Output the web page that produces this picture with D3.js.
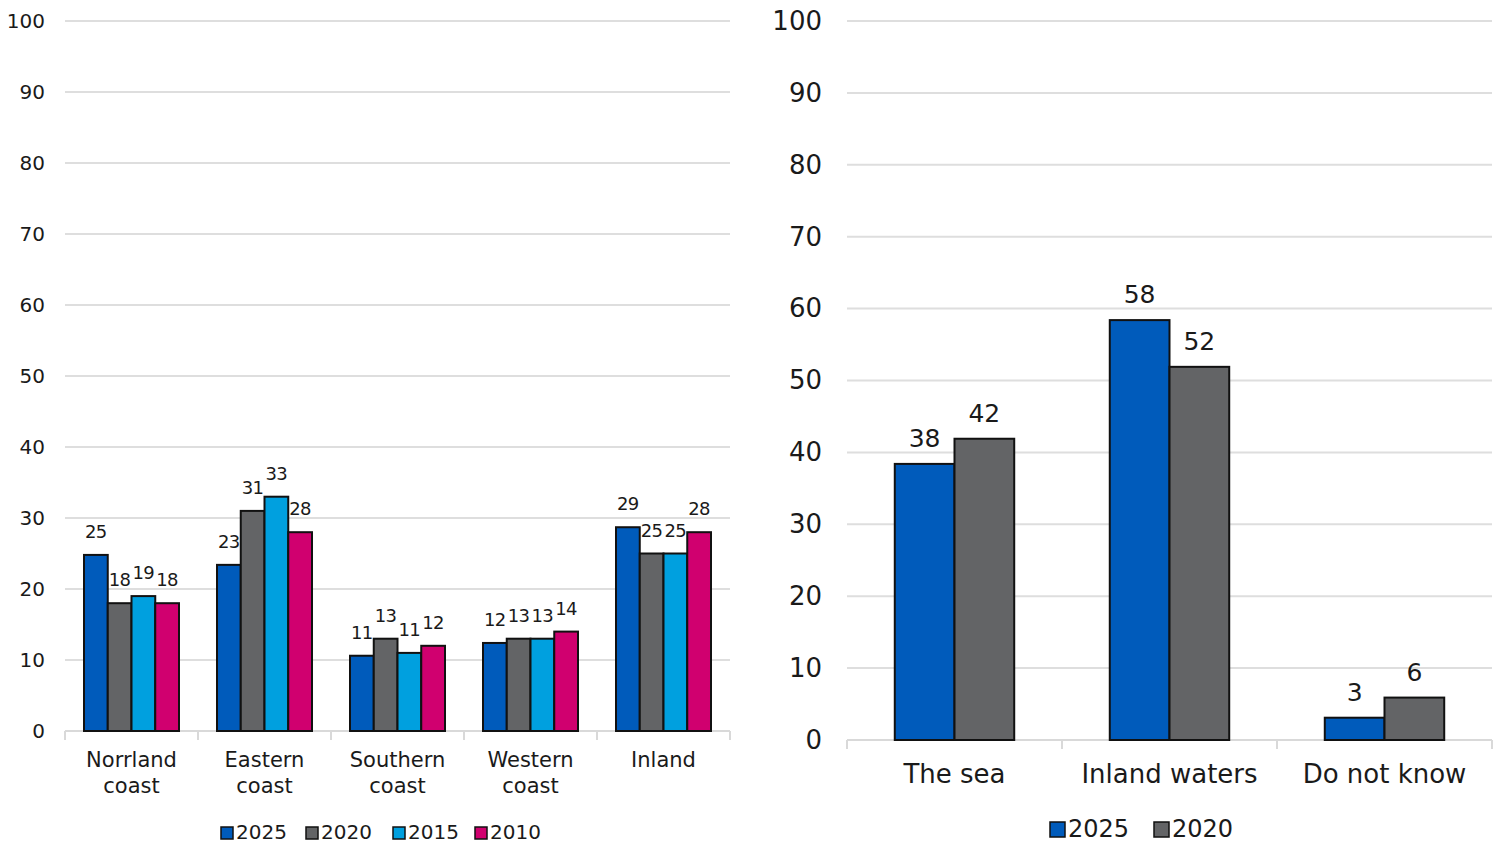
<!DOCTYPE html>
<html>
<head>
<meta charset="utf-8">
<script src="https://cdn.jsdelivr.net/npm/d3@7"></script>
<style>
  html, body { margin: 0; padding: 0; background: #fff; }
  svg { display: block; font-family: "DejaVu Sans", sans-serif; }
  text { fill: #1a1a1a; }
</style>
</head>
<body>
<svg id="chart" width="1498" height="845"></svg>
<script>
// ---- Data ----
const leftCategories = ["Norrland coast", "Eastern coast", "Southern coast", "Western coast", "Inland"];
const leftSeries = ["2025", "2020", "2015", "2010"];
const left2025 = [24.8, 23.4, 10.6, 12.4, 28.7];
const left2020 = [18, 31, 13, 13, 25];
const left2015 = [19, 33, 11, 13, 25];
const left2010 = [18, 28, 12, 14, 28];

const rightCategories = ["The sea", "Inland waters", "Do not know"];
const rightSeries = ["2025", "2020"];
const right2025 = [38.4, 58.4, 3.1];
const right2020 = [41.9, 51.9, 5.9];

const yTicks = [0, 10, 20, 30, 40, 50, 60, 70, 80, 90, 100];

const colors = { "2025": "#005BBB", "2020": "#636466", "2015": "#00A0DF", "2010": "#D0006F" };

const svg = d3.select("#chart");

function drawChart(cfg) {
  const g = svg.append("g");
  const y = d3.scaleLinear().domain([0, 100]).range([cfg.y0, cfg.y100]);
  const x0 = d3.scaleBand().domain(cfg.categories).range([cfg.xl, cfg.xr]).padding(0);
  const bw = x0.bandwidth() / (cfg.series.length + 1.6);
  const x1 = d3.scaleBand().domain(cfg.series)
    .range([0.8 * bw, 0.8 * bw + bw * cfg.series.length]).padding(0);

  // gridlines
  g.append("g").selectAll("line").data(yTicks.filter(d => d > 0)).join("line")
    .attr("x1", cfg.xl).attr("x2", cfg.xr)
    .attr("y1", d => y(d)).attr("y2", d => y(d))
    .attr("stroke", "#dedede").attr("stroke-width", 2);

  // y axis labels
  const yAxis = d3.axisLeft(y).tickValues(yTicks).tickSize(0).tickPadding(0);
  const ya = g.append("g").attr("transform", `translate(${cfg.yLabelX},0)`).call(yAxis);
  ya.select(".domain").remove();
  ya.selectAll("text").attr("font-size", cfg.tickFont).attr("fill", "#1a1a1a")
    .attr("font-family", '"DejaVu Sans", sans-serif');

  // x axis
  g.append("line").attr("x1", cfg.xl).attr("x2", cfg.xr)
    .attr("y1", y(0)).attr("y2", y(0)).attr("stroke", "#d9d9d9").attr("stroke-width", 2);
  const sepX = cfg.categories.map(c => x0(c)).concat([cfg.xr]);
  g.append("g").selectAll("line").data(sepX).join("line")
    .attr("x1", d => d).attr("x2", d => d)
    .attr("y1", y(0)).attr("y2", y(0) + 9)
    .attr("stroke", "#d9d9d9").attr("stroke-width", 2);

  // bars
  const groups = g.append("g").selectAll("g").data(cfg.categories).join("g")
    .attr("transform", c => `translate(${x0(c)},0)`);
  groups.selectAll("rect").data((c, i) => cfg.series.map(s => ({ s, v: cfg.values[s][i] })))
    .join("rect")
    .attr("x", d => x1(d.s)).attr("width", x1.bandwidth())
    .attr("y", d => y(d.v)).attr("height", d => y(0) - y(d.v))
    .attr("fill", d => colors[d.s]).attr("stroke", "#111").attr("stroke-width", 2);
  groups.selectAll("text").data((c, i) => cfg.series.map(s => ({ s, v: cfg.values[s][i] })))
    .join("text")
    .attr("x", d => x1(d.s) + x1.bandwidth() / 2)
    .attr("y", d => y(d.v) - 17)
    .attr("text-anchor", "middle").attr("font-size", cfg.labelFont)
    .attr("letter-spacing", cfg.labelSpacing || 0)
    .text(d => Math.round(d.v));

  // category labels
  const cl = g.append("g").selectAll("text").data(cfg.categories).join("text")
    .attr("x", c => x0(c) + x0.bandwidth() / 2)
    .attr("y", cfg.catY)
    .attr("text-anchor", "middle").attr("font-size", cfg.catFont);
  cl.each(function (c) {
    const lines = cfg.wrap ? c.split(" ") : [c];
    const t = d3.select(this);
    lines.forEach((ln, i) => {
      t.append("tspan").attr("x", x0(c) + x0.bandwidth() / 2)
        .attr("dy", i === 0 ? 0 : cfg.lineH).text(ln);
    });
  });

  // legend
  const lg = g.append("g").selectAll("g").data(cfg.series).join("g")
    .attr("transform", (s, i) => `translate(${cfg.legendX[i]},${cfg.legendY})`);
  lg.append("rect").attr("x", 0).attr("y", -cfg.legSq).attr("width", cfg.legSq).attr("height", cfg.legSq)
    .attr("fill", s => colors[s]).attr("stroke", "#111").attr("stroke-width", 1.5);
  lg.append("text").attr("x", cfg.legSq + 3).attr("y", 0).attr("font-size", cfg.legFont).text(s => s);
}

drawChart({
  categories: leftCategories, series: leftSeries,
  values: { "2025": left2025, "2020": left2020, "2015": left2015, "2010": left2010 },
  xl: 65, xr: 730, y0: 731, y100: 21, yLabelX: 45,
  tickFont: 20, labelFont: 18, labelSpacing: -0.5, catFont: 21, catY: 767, lineH: 26, wrap: true,
  legendX: [221, 306, 393, 475], legendY: 839, legSq: 12, legFont: 20
});

drawChart({
  categories: rightCategories, series: rightSeries,
  values: { "2025": right2025, "2020": right2020 },
  xl: 847, xr: 1492, y0: 740, y100: 21, yLabelX: 822,
  tickFont: 26, labelFont: 25, catFont: 26, catY: 783, lineH: 30, wrap: false,
  legendX: [1050, 1154], legendY: 837, legSq: 15, legFont: 24
});
</script>
</body>
</html>
